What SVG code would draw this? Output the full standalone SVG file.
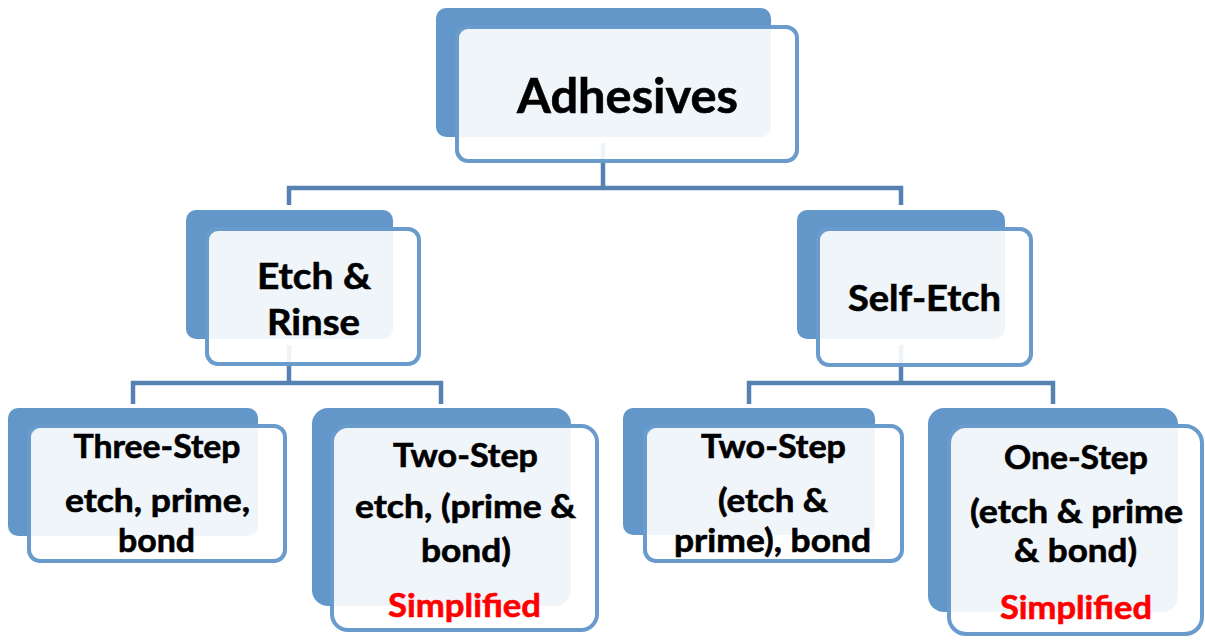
<svg xmlns="http://www.w3.org/2000/svg" width="1205" height="640" viewBox="0 0 1205 640">
<style>
.back{fill:#6397C9;}
.front{fill:#FFFFFF;fill-opacity:0.9;stroke:#6A9BCD;stroke-width:4;}
.conn{fill:none;stroke:#5582B2;stroke-width:4.5;stroke-linejoin:miter;stroke-linecap:butt;}
text{font-family:Lato,"Open Sans","Liberation Sans",sans-serif;font-weight:700;fill:#000;stroke:#000;stroke-width:0.6;text-anchor:middle;}
.l1{font-size:48px;}
.l2{font-size:36px;}
.l3{font-size:32px;}
.red{fill:#FF0000;stroke:#FF0000;}
</style>
<rect width="1205" height="640" fill="#FFFFFF"/>
<g id="connectors">
<path class="conn" d="M603,143 V188"/>
<path class="conn" d="M289,205 V188 H901 V205"/>
<path class="conn" d="M289,345 V383"/>
<path class="conn" d="M133,404 V383 H441 V404"/>
<path class="conn" d="M901,345 V383"/>
<path class="conn" d="M749,404 V383 H1053 V404"/>
</g>
<g id="adhesives">
<rect class="back" x="436" y="8" width="335" height="129" rx="10"/>
<rect class="front" x="457" y="27" width="340" height="134" rx="11"/>
<text class="l1" x="627.5" y="113" textLength="221" lengthAdjust="spacingAndGlyphs">Adhesives</text>
</g>
<g id="etch-rinse">
<rect class="back" x="186" y="210" width="207" height="129" rx="10"/>
<rect class="front" x="207" y="229" width="212" height="135" rx="11"/>
<text class="l2" x="314" y="289" textLength="114" lengthAdjust="spacingAndGlyphs">Etch &amp;</text>
<text class="l2" x="313.5" y="335" textLength="93" lengthAdjust="spacingAndGlyphs">Rinse</text>
</g>
<g id="self-etch">
<rect class="back" x="797" y="210" width="208" height="129" rx="10"/>
<rect class="front" x="818" y="229" width="213" height="136" rx="11"/>
<text class="l2" x="924.5" y="311" textLength="153" lengthAdjust="spacingAndGlyphs">Self-Etch</text>
</g>
<g id="three-step">
<rect class="back" x="8" y="408" width="250" height="128" rx="10"/>
<rect class="front" x="29" y="426" width="256" height="135" rx="11"/>
<text class="l3" x="157" y="458" textLength="167" lengthAdjust="spacingAndGlyphs">Three-Step</text>
<text class="l3" x="157.5" y="512" textLength="185" lengthAdjust="spacingAndGlyphs">etch, prime,</text>
<text class="l3" x="156.5" y="552" textLength="77" lengthAdjust="spacingAndGlyphs">bond</text>
</g>
<g id="two-step-er">
<rect class="back" x="312" y="408" width="259" height="198" rx="16"/>
<rect class="front" x="332" y="426" width="265" height="204" rx="16"/>
<text class="l3" x="465.5" y="467" textLength="145" lengthAdjust="spacingAndGlyphs">Two-Step</text>
<text class="l3" x="465.5" y="518" textLength="221" lengthAdjust="spacingAndGlyphs">etch, (prime &amp;</text>
<text class="l3" x="466" y="562" textLength="90" lengthAdjust="spacingAndGlyphs">bond)</text>
<text class="l3 red" x="464.5" y="617" textLength="153" lengthAdjust="spacingAndGlyphs">Simplified</text>
</g>
<g id="two-step-se">
<rect class="back" x="623" y="408" width="252" height="127" rx="10"/>
<rect class="front" x="645" y="426" width="257" height="135" rx="11"/>
<text class="l3" x="773.5" y="458" textLength="145" lengthAdjust="spacingAndGlyphs">Two-Step</text>
<text class="l3" x="773" y="512" textLength="110" lengthAdjust="spacingAndGlyphs">(etch &amp;</text>
<text class="l3" x="772.5" y="552" textLength="197" lengthAdjust="spacingAndGlyphs">prime), bond</text>
</g>
<g id="one-step">
<rect class="back" x="928" y="408" width="250" height="204" rx="16"/>
<rect class="front" x="949" y="426" width="253" height="208" rx="17"/>
<text class="l3" x="1076" y="469" textLength="144" lengthAdjust="spacingAndGlyphs">One-Step</text>
<text class="l3" x="1076.5" y="523" textLength="213" lengthAdjust="spacingAndGlyphs">(etch &amp; prime</text>
<text class="l3" x="1075.5" y="562" textLength="123" lengthAdjust="spacingAndGlyphs">&amp; bond)</text>
<text class="l3 red" x="1076" y="619" textLength="152" lengthAdjust="spacingAndGlyphs">Simplified</text>
</g>
</svg>
